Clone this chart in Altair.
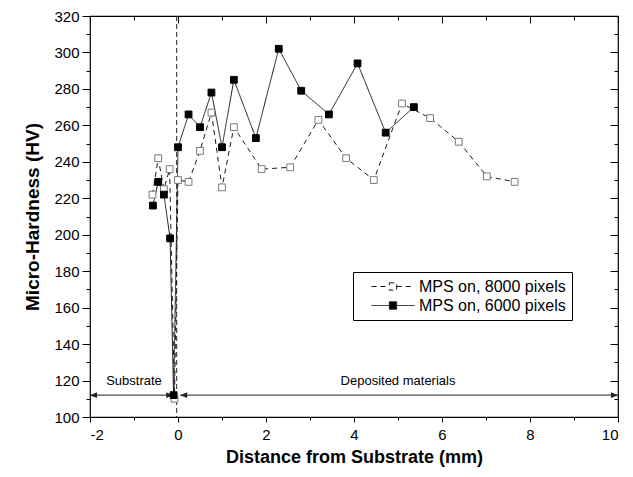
import altair as alt
import pandas as pd

FONT = "Liberation Sans"

# ---- data ----
series_names = ["MPS on, 8000 pixels", "MPS on, 6000 pixels"]

hollow_x = [-0.58, -0.45, -0.32, -0.19, -0.08, 0.0, 0.24, 0.5, 0.76, 1.0, 1.27,
            1.9, 2.55, 3.19, 3.82, 4.45, 5.09, 5.73, 6.38, 7.02, 7.65]
hollow_y = [222, 242, 225, 236, 110, 230, 229, 246, 267, 226, 259,
            236, 237, 263, 242, 230, 272, 264, 251, 232, 229]

filled_x = [-0.57, -0.45, -0.32, -0.18, -0.1, 0.0, 0.24, 0.5, 0.76, 1.0, 1.27,
            1.77, 2.29, 2.8, 3.43, 4.08, 4.72, 5.36]
filled_y = [216, 229, 222, 198, 112, 248, 266, 259, 278, 248, 285,
            253, 302, 279, 266, 294, 256, 270]

interface_x = [-0.03]

arrow_y = 112
arrow_start = [-2.0, 0.05]
arrow_end = [-0.11, 10.0]
region_labels = ["Substrate", "Deposited materials"]
region_label_x = [-1.0, 5.0]
region_label_y = [119.5, 119.5]

x_domain = [-2, 10]
y_domain = [100, 320]
x_ticks = list(range(-2, 11))
x_major = list(range(-2, 11, 2))
x_minor = list(range(-1, 10, 2))
y_ticks = list(range(100, 321, 10))
y_major = list(range(100, 321, 20))
y_minor = list(range(110, 311, 20))

# ---- tables ----
df = pd.concat([
    pd.DataFrame({"x": hollow_x, "y": hollow_y, "series": series_names[0]}),
    pd.DataFrame({"x": filled_x, "y": filled_y, "series": series_names[1]}),
], ignore_index=True)
df["idx"] = range(len(df))

vline_df = pd.DataFrame({"x": interface_x})
arrow_df = pd.DataFrame({"x": arrow_start, "x2": arrow_end, "y": [arrow_y, arrow_y]})
head_df = pd.DataFrame({
    "x": [arrow_start[0], arrow_end[0], arrow_start[1], arrow_end[1]],
    "y": [arrow_y] * 4,
    "dir": ["L", "R", "L", "R"],
})
text_df = pd.DataFrame({"x": region_label_x, "y": region_label_y, "label": region_labels})

xscale = alt.Scale(domain=x_domain, nice=False, zero=False)
yscale = alt.Scale(domain=y_domain, nice=False, zero=False)

LEG = alt.Legend(
    title=None, orient="none", legendX=263, legendY=256,
    strokeColor="black", fillColor="white", padding=6,
    symbolType="M-1,0H-0.17M0.17,0H1M-0.17,-0.17H0.17V0.17H-0.17Z",
    symbolSize=1849, symbolStrokeColor="#111111", symbolStrokeWidth=1,
    clipHeight=17, rowPadding=2, symbolOffset=12, labelOffset=4,
    labelFont=FONT, labelFontSize=16, labelColor="black",
)

# bottom (labelled) and left (labelled) axes
bottom_axis = alt.Axis(
    orient="bottom", values=x_ticks, domain=False, grid=False,
    tickSize={"condition": {"test": "datum.value % 2 !== 0", "value": 3}, "value": 5},
    tickColor="black", tickWidth=1,
    labelExpr="datum.value % 2 === 0 ? '' + datum.value : ''",
    labelFont=FONT, labelFontSize=15, labelColor="black", labelPadding=5,
    title="Distance from Substrate (mm)", titleFont=FONT, titleFontSize=18,
    titleFontWeight="bold", titleColor="black", titlePadding=6,
)
left_axis = alt.Axis(
    orient="left", values=y_ticks, domain=False, grid=False,
    tickSize={"condition": {"test": "datum.value % 20 !== 0", "value": 4}, "value": 8},
    tickColor="black", tickWidth=1,
    labelExpr="datum.value % 20 === 0 ? '' + datum.value : ''",
    labelFont=FONT, labelFontSize=15, labelColor="black", labelPadding=3,
    title="Micro-Hardness (HV)", titleFont=FONT, titleFontSize=19,
    titleFontWeight="bold", titleColor="black", titlePadding=11,
)

lines = alt.Chart(df).mark_line(strokeWidth=1, color="#1a1a1a").encode(
    x=alt.X("x:Q", scale=xscale, axis=bottom_axis),
    y=alt.Y("y:Q", scale=yscale, axis=left_axis),
    strokeDash=alt.StrokeDash("series:N",
                              scale=alt.Scale(domain=series_names, range=[[5, 4], [1, 0]]),
                              legend=LEG),
    detail="series:N",
    order="idx:Q",
)

points = alt.Chart(df).mark_point(shape="square", size=46, filled=True, opacity=1,
                                  strokeWidth=1).encode(
    x=alt.X("x:Q", scale=xscale, title=None,
            axis=alt.Axis(orient="top", values=x_major, tickSize=7, offset=-7,
                          labels=False, domain=False, grid=False,
                          tickColor="black")),
    y=alt.Y("y:Q", scale=yscale, title=None,
            axis=alt.Axis(orient="right", values=y_major, tickSize=8, offset=-8,
                          labels=False, domain=False, grid=False,
                          tickColor="black")),
    fill=alt.Fill("series:N", scale=alt.Scale(domain=series_names, range=["white", "black"]),
                  legend=LEG),
    stroke=alt.condition(f"datum.series == '{series_names[0]}'",
                         alt.value("#7a7a7a"), alt.value("black")),
)

vline = alt.Chart(vline_df).mark_rule(strokeDash=[5, 3], color="#222222", strokeWidth=1).encode(
    x=alt.X("x:Q", scale=xscale, axis=None),
)

arrows = alt.Chart(arrow_df).mark_rule(color="#222222", strokeWidth=1).encode(
    x=alt.X("x:Q", scale=xscale, title=None,
            axis=alt.Axis(orient="top", values=x_minor, tickSize=4, offset=-4,
                          labels=False, domain=False, grid=False,
                          tickColor="black")),
    x2="x2:Q",
    y=alt.Y("y:Q", scale=yscale, title=None,
            axis=alt.Axis(orient="right", values=y_minor, tickSize=4, offset=-4,
                          labels=False, domain=False, grid=False,
                          tickColor="black")),
)

heads = alt.Chart(head_df).mark_point(filled=True, color="#222222", opacity=1, size=196).encode(
    x=alt.X("x:Q", scale=xscale, axis=None),
    y=alt.Y("y:Q", scale=yscale, axis=None),
    shape=alt.Shape("dir:N", scale=alt.Scale(domain=["L", "R"],
                                             range=["M0,0L1,-0.4L1,0.4Z", "M0,0L-1,-0.4L-1,0.4Z"]),
                    legend=None),
)

texts = alt.Chart(text_df).mark_text(font=FONT, fontSize=13, color="black").encode(
    x=alt.X("x:Q", scale=xscale, axis=None),
    y=alt.Y("y:Q", scale=yscale, axis=None),
    text="label:N",
)

chart = alt.layer(vline, arrows, heads, lines, points, texts).resolve_axis(
    x="independent", y="independent"
).properties(
    width=528, height=401,
    autosize=alt.AutoSizeParams(type="none"),
    padding={"left": 82, "top": 8, "right": 7, "bottom": 52},
    background="white",
).configure_view(
    stroke="black", strokeWidth=1.2,
).configure_axis(grid=False)

chart.save("out.html", embed_options={"renderer": "svg", "actions": False})
